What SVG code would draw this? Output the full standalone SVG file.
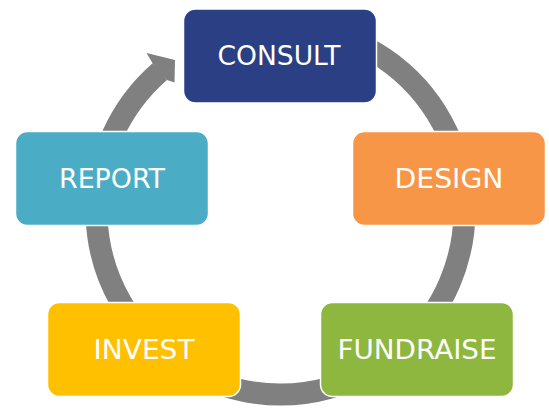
<svg xmlns="http://www.w3.org/2000/svg" width="549" height="408" viewBox="0 0 549 408">
<style>
.box{stroke:#ffffff;stroke-width:1.5}
.lbl{font-family:"DejaVu Sans",Verdana,sans-serif;font-size:27px;fill:#ffffff;text-anchor:middle}
.ring{fill:none;stroke:#808080;stroke-width:22}
.head{fill:#808080}
</style>
<rect width="549" height="408" fill="#ffffff"/>
<g id="connectors">
<path class="ring" d="M312.5,29.3 A184,184 0 1 1 159.8,71.6"/>
<polygon class="head" points="158.5,72 152.6,63.3 146.5,53 175,60 174.5,82.5 167,79.9"/>
</g>
<g id="consult">
<rect class="box" x="183.5" y="9" width="193" height="94" rx="12" fill="#2A3F84"/>
<text class="lbl" x="279" y="64.5" textLength="123" lengthAdjust="spacingAndGlyphs">CONSULT</text>
</g>
<g id="design">
<rect class="box" x="352.5" y="131.5" width="193" height="94" rx="12" fill="#F79646"/>
<text class="lbl" x="449" y="188" textLength="109" lengthAdjust="spacingAndGlyphs">DESIGN</text>
</g>
<g id="fundraise">
<rect class="box" x="320.5" y="302.5" width="193" height="94" rx="12" fill="#8DB73E"/>
<text class="lbl" x="417" y="358.5" textLength="159" lengthAdjust="spacingAndGlyphs">FUNDRAISE</text>
</g>
<g id="invest">
<rect class="box" x="47.5" y="302.5" width="193" height="94" rx="12" fill="#FFC000"/>
<text class="lbl" x="144" y="358.5" textLength="101" lengthAdjust="spacingAndGlyphs">INVEST</text>
</g>
<g id="report">
<rect class="box" x="15.5" y="131.5" width="193" height="94" rx="12" fill="#4BACC6"/>
<text class="lbl" x="112" y="188" textLength="106" lengthAdjust="spacingAndGlyphs">REPORT</text>
</g>
</svg>
